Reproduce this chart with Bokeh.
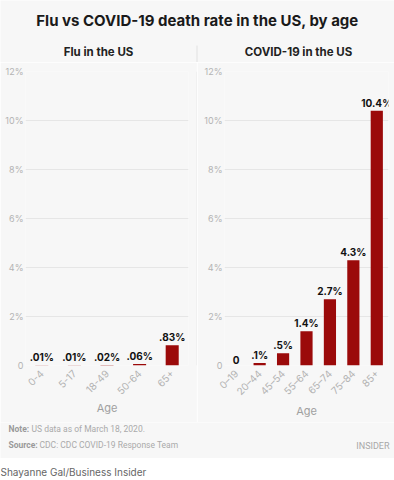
from math import pi
from bokeh.plotting import figure
from bokeh.layouts import column, row
from bokeh.models import (Range1d, FixedTicker, ColumnDataSource, LabelSet, Label,
                          BoxAnnotation, FactorRange)
from bokeh.core.properties import value
from bokeh.embed import file_html
from bokeh.resources import INLINE

# ---- data ----
title = "Flu vs COVID-19 death rate in the US, by age"
flu_title = "Flu in the US"
covid_title = "COVID-19 in the US"
flu_ages = ["0-4", "5-17", "18-49", "50-64", "65+"]
flu_rates = [0.01, 0.01, 0.02, 0.06, 0.83]
flu_labels = [".01%", ".01%", ".02%", ".06%", ".83%"]
covid_ages = ["0–19", "20–44", "45–54", "55–64", "65–74", "75–84", "85+"]
covid_rates = [0.0, 0.1, 0.5, 1.4, 2.7, 4.3, 10.4]
covid_labels = ["0", ".1%", ".5%", "1.4%", "2.7%", "4.3%", "10.4%"]
y_ticks = [0, 2, 4, 6, 8, 10, 12]
y_tick_labels = ["0", "2%", "4%", "6%", "8%", "10%", "12%"]
x_axis_title = "Age"
note_head = "Note:"
note_text = "US data as of March 18, 2020."
source_head = "Source:"
source_text = "CDC: CDC COVID-19 Response Team"
brand = "INSIDER"
credit = "Shayanne Gal/Business Insider"

# ---- style ----
BG = "#f7f7f7"
RED = "#9b0a0a"
FONT = "Inter"
SMALL = "Roboto"
GRID = "#e6e6e6"
TICK = "#b3b3b3"
PH = 360
DIV = "#e2e2e2"


def blank(w, h, bg):
    p = figure(width=w, height=h, x_range=Range1d(0, w), y_range=Range1d(0, h),
               output_backend="svg", toolbar_location=None, min_border=0,
               background_fill_color=bg, border_fill_color=bg, outline_line_color=None)
    p.axis.visible = False
    p.grid.visible = False
    return p


def lab(p, x, y, text, size, color, style="normal", align="left", font=FONT):
    p.add_layout(Label(x=x, y=y, x_units="canvas", y_units="canvas", text=text,
                       text_font=font, text_font_size=size, text_color=color,
                       text_font_style=style, text_align=align, text_baseline="middle"))


def panel(ages, rates, labels, width, lb, rb, bw):
    p = figure(width=width, height=PH, x_range=FactorRange(*ages), y_range=Range1d(0, 12),
               output_backend="svg", toolbar_location=None,
               min_border_left=lb, min_border_right=rb, min_border_top=9, min_border_bottom=57,
               background_fill_color=BG, border_fill_color=BG, outline_line_color=None)
    src = ColumnDataSource(dict(age=ages, rate=rates, label=labels))
    p.vbar(x="age", top="rate", width=bw, source=src, fill_color=RED, line_color=None)
    p.add_layout(LabelSet(x="age", y="rate", text="label", source=src, text_align="center",
                          text_baseline="bottom", y_offset=2, text_font=value(FONT),
                          text_font_style="bold", text_font_size="10px", text_color="#111111"))
    p.x_range.range_padding = 0
    p.xgrid.visible = False
    p.ygrid.grid_line_color = GRID
    p.ygrid.ticker = FixedTicker(ticks=y_ticks)
    p.yaxis.ticker = FixedTicker(ticks=y_ticks)
    p.yaxis.major_label_overrides = dict(zip(y_ticks, y_tick_labels))
    for ax in (p.xaxis, p.yaxis):
        ax.axis_line_color = None
        ax.major_tick_line_color = None
        ax.minor_tick_line_color = None
        ax.major_tick_out = 0
        ax.major_tick_in = 0
        ax.major_label_text_font = FONT
        ax.major_label_text_color = TICK
    p.yaxis.major_label_text_font_size = "9px"
    p.yaxis.major_label_standoff = 2
    p.xaxis.major_label_text_font_size = "10px"
    p.xaxis.major_label_orientation = pi / 4
    p.xaxis.major_label_standoff = 6
    p.xaxis.axis_label = x_axis_title
    p.xaxis.axis_label_text_font = FONT
    p.xaxis.axis_label_text_font_size = "11px"
    p.xaxis.axis_label_text_font_style = "normal"
    p.xaxis.axis_label_text_color = "#a0a0a0"
    p.xaxis.axis_label_standoff = 0
    return p


# header
head = blank(394, 62, BG)
lab(head, 197, 20, title, "15px", "#1a1a1a", "bold", "center")
lab(head, 98, 51, flu_title, "11.5px", "#222222", "bold", "center")
lab(head, 298, 51, covid_title, "11.5px", "#222222", "bold", "center")
head.add_layout(BoxAnnotation(left=196, right=197, top=45, bottom=62, left_units="canvas",
                              right_units="canvas", top_units="canvas", bottom_units="canvas",
                              fill_color=DIV, fill_alpha=1, line_color=None))

left = panel(flu_ages, flu_rates, flu_labels, 196, 25, 8, 0.4)
right = panel(covid_ages, covid_rates, covid_labels, 197, 27, 6, 0.52)

divider = figure(width=1, height=PH, output_backend="svg", toolbar_location=None,
                 min_border=0, background_fill_color=DIV, border_fill_color=DIV,
                 outline_line_color=None, x_range=Range1d(0, 1), y_range=Range1d(0, 1))
divider.axis.visible = False
divider.grid.visible = False

foot = blank(394, 36, BG)
lab(foot, 8, 6, note_head, "8.5px", "#9a9a9a", "bold", font=SMALL)
lab(foot, 31, 6, note_text, "8.5px", "#aaaaaa", font=SMALL)
lab(foot, 8, 22, source_head, "8.5px", "#9a9a9a", "bold", font=SMALL)
lab(foot, 39, 22, source_text, "8.5px", "#aaaaaa", font=SMALL)
lab(foot, 389, 23, brand, "9px", "#a8a8a8", "normal", "right", font=SMALL)

credit_fig = blank(394, 22, "#ffffff")
lab(credit_fig, 0, 13, credit, "10px", "#666666")

p = column(head, row(left, divider, right, spacing=0), foot, credit_fig, spacing=0)

open("out.html", "w").write(file_html(p, INLINE))
